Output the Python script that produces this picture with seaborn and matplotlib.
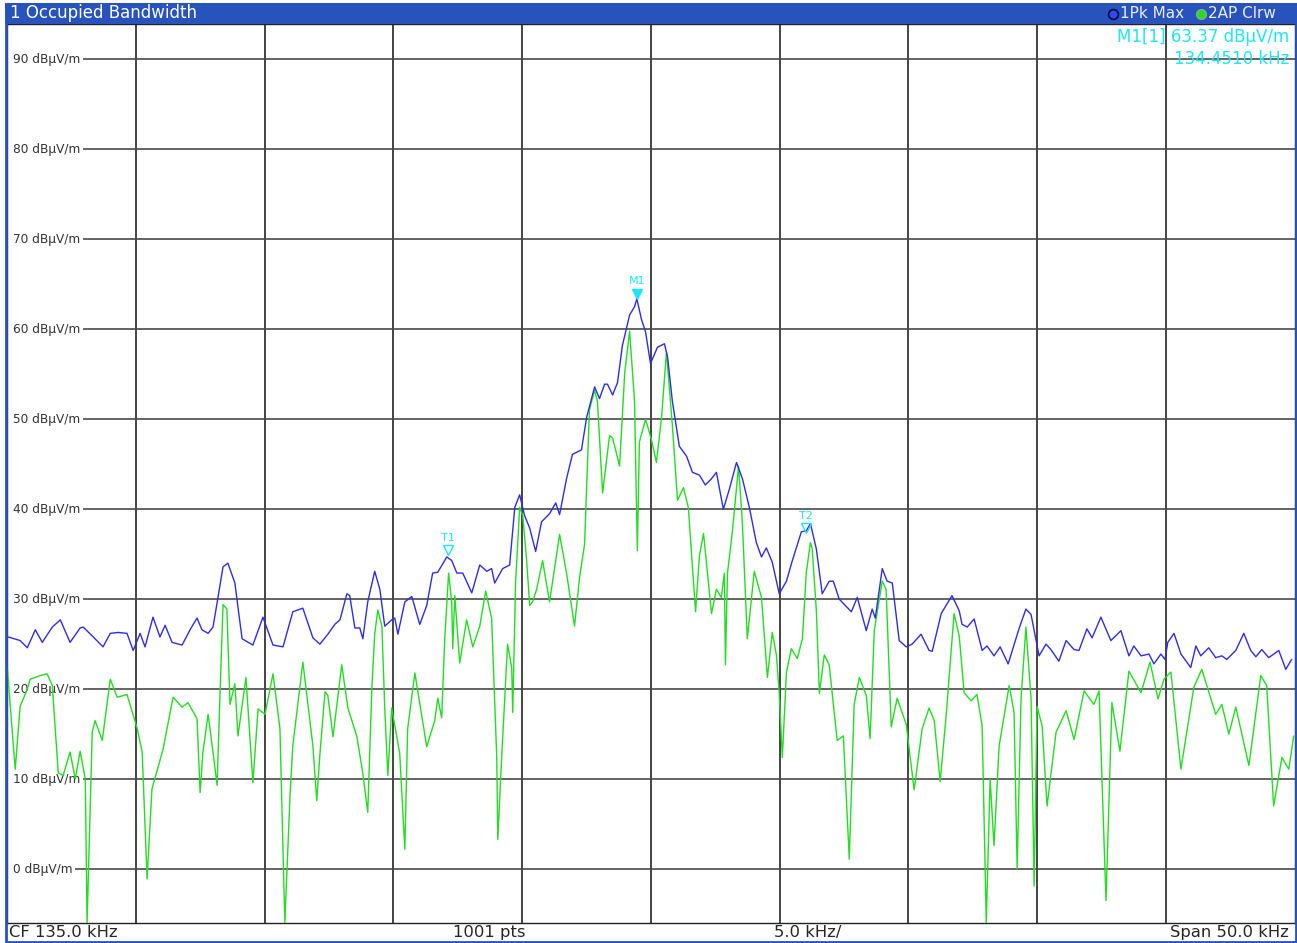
import matplotlib.pyplot as plt
import seaborn as sns
from matplotlib.patches import Rectangle
from matplotlib.lines import Line2D

## Trace 1: Pk Max (blue) - frequency in kHz, level in dBuV/m
pk_freq = [110.04, 110.50, 110.78, 111.09, 111.36, 111.75, 112.06, 112.44, 112.83, 112.95,
           113.34, 113.72, 114.00, 114.31, 114.65, 114.89, 115.16, 115.35, 115.66, 115.93,
           116.13, 116.40, 116.79, 117.10, 117.37, 117.56, 117.80, 117.99, 118.15, 118.38,
           118.57, 118.84, 118.96, 119.12, 119.54, 119.93, 120.32, 120.71, 121.09, 121.48,
           121.87, 122.14, 122.45, 122.72, 122.92, 123.19, 123.30, 123.50, 123.69, 123.81,
           124.00, 124.27, 124.47, 124.66, 124.93, 125.05, 125.17, 125.44, 125.71, 126.02,
           126.29, 126.52, 126.72, 127.07, 127.26, 127.46, 127.69, 128.04, 128.35, 128.62,
           128.81, 128.93, 129.24, 129.51, 129.71, 129.90, 130.09, 130.29, 130.52, 130.75,
           131.06, 131.30, 131.45, 131.72, 131.95, 132.30, 132.50, 132.81, 133.00, 133.20,
           133.31, 133.51, 133.70, 133.89, 134.17, 134.36, 134.45, 134.63, 134.79, 134.98,
           135.25, 135.52, 135.64, 135.83, 136.10, 136.38, 136.61, 136.88, 137.11, 137.35,
           137.54, 137.81, 138.04, 138.32, 138.55, 138.82, 139.09, 139.29, 139.48, 139.71,
           139.98, 140.26, 140.49, 140.84, 141.03, 141.19, 141.42, 141.65, 141.92, 142.08,
           142.31, 142.78, 143.01, 143.36, 143.59, 143.71, 143.98, 144.17, 144.37, 144.64,
           144.91, 145.14, 145.49, 145.80, 145.92, 146.27, 146.69, 146.97, 147.08, 147.28,
           147.55, 147.86, 148.05, 148.32, 148.56, 148.87, 149.29, 149.56, 149.76, 150.07,
           150.34, 150.53, 150.84, 151.12, 151.43, 151.62, 151.93, 152.13, 152.47, 152.86,
           153.25, 153.56, 153.75, 154.03, 154.34, 154.53, 154.80, 154.96, 155.07, 155.31,
           155.58, 155.96, 156.16, 156.35, 156.66, 156.93, 157.17, 157.36, 157.71, 158.02,
           158.29, 158.49, 158.72, 158.99, 159.38, 159.65, 159.88]
pk_level = [25.8, 25.4, 24.6, 26.6, 25.2, 26.9, 27.7, 25.2, 26.8, 26.9,
            25.8, 24.7, 26.2, 26.3, 26.2, 24.3, 26.2, 24.7, 28.0, 25.8,
            27.1, 25.2, 24.9, 26.6, 27.9, 26.6, 26.2, 26.9, 29.6, 33.6,
            34.0, 31.8, 29.1, 25.6, 24.9, 28.0, 24.9, 24.7, 28.6, 29.0,
            25.7, 25.0, 26.1, 27.2, 27.7, 30.6, 30.4, 26.8, 26.8, 25.6,
            29.7, 33.1, 31.1, 27.0, 27.7, 27.9, 26.1, 29.7, 30.3, 27.2,
            29.3, 32.9, 33.0, 34.7, 34.3, 32.9, 32.9, 30.7, 33.8, 33.1,
            33.4, 31.8, 33.4, 33.8, 40.2, 41.6, 39.3, 37.9, 35.3, 38.6,
            39.5, 40.7, 39.4, 43.4, 46.1, 46.6, 50.2, 53.6, 52.3, 53.9,
            53.9, 52.7, 54.1, 58.2, 61.6, 62.5, 63.4, 61.1, 59.7, 56.2,
            58.0, 58.4, 57.0, 52.0, 47.0, 45.9, 44.1, 43.8, 42.7, 43.4,
            44.1, 40.0, 42.2, 45.2, 43.4, 40.2, 36.3, 34.7, 35.7, 34.1,
            30.6, 32.0, 34.3, 37.5, 37.6, 38.4, 35.6, 30.6, 32.0, 32.0,
            30.0, 28.6, 30.2, 26.5, 28.9, 27.9, 33.4, 32.0, 31.8, 25.4,
            24.7, 25.0, 26.1, 24.3, 24.2, 28.4, 30.4, 28.7, 27.2, 26.9,
            27.8, 24.3, 24.8, 23.7, 24.7, 22.8, 26.7, 28.9, 28.3, 23.7,
            25.0, 24.4, 23.1, 25.4, 24.4, 24.3, 26.7, 25.7, 28.0, 25.4,
            26.5, 23.7, 24.8, 23.7, 23.9, 22.8, 23.9, 23.3, 25.2, 26.2,
            23.9, 22.4, 24.8, 23.7, 24.6, 23.5, 23.7, 23.3, 24.3, 26.2,
            24.3, 23.6, 24.4, 23.5, 24.3, 22.2, 23.3]

## Trace 2: AP Clrw (green)
ap_freq = [110.00, 110.31, 110.50, 110.78, 110.89, 111.28, 111.55, 111.75, 111.98, 112.17,
           112.44, 112.64, 112.83, 113.03, 113.10, 113.30, 113.41, 113.69, 114.00, 114.27,
           114.65, 115.04, 115.24, 115.43, 115.62, 116.05, 116.44, 116.79, 117.02, 117.37,
           117.49, 117.60, 117.80, 117.99, 118.15, 118.26, 118.38, 118.53, 118.65, 118.84,
           118.96, 119.27, 119.54, 119.74, 120.01, 120.32, 120.59, 120.78, 120.98, 121.09,
           121.48, 121.87, 122.02, 122.14, 122.34, 122.45, 122.65, 122.99, 123.23, 123.58,
           123.81, 124.00, 124.16, 124.27, 124.39, 124.55, 124.66, 124.78, 124.93, 125.24,
           125.44, 125.55, 125.83, 126.02, 126.29, 126.60, 126.72, 126.87, 126.99, 127.14,
           127.26, 127.30, 127.38, 127.57, 127.84, 128.08, 128.35, 128.58, 128.81, 129.01,
           129.05, 129.20, 129.43, 129.59, 129.63, 129.74, 129.90, 130.02, 130.17, 130.29,
           130.40, 130.56, 130.79, 131.06, 131.45, 131.72, 132.03, 132.23, 132.42, 132.61,
           132.81, 132.92, 133.12, 133.39, 133.51, 133.78, 133.98, 134.17, 134.36, 134.47,
           134.55, 134.79, 135.02, 135.21, 135.41, 135.60, 135.83, 136.03, 136.26, 136.45,
           136.73, 136.88, 137.04, 137.35, 137.54, 137.73, 137.85, 137.89, 137.97, 138.16,
           138.40, 138.55, 138.74, 139.01, 139.29, 139.52, 139.71, 139.87, 139.98, 140.10,
           140.26, 140.45, 140.68, 140.88, 141.03, 141.19, 141.26, 141.42, 141.54, 141.73,
           141.92, 142.23, 142.47, 142.70, 142.89, 143.09, 143.36, 143.51, 143.67, 143.98,
           144.13, 144.33, 144.56, 144.91, 145.22, 145.53, 145.80, 146.00, 146.23, 146.46,
           146.77, 146.97, 147.16, 147.43, 147.66, 147.86, 148.02, 148.17, 148.32, 148.52,
           148.91, 149.10, 149.22, 149.37, 149.56, 149.76, 149.88, 149.99, 150.19, 150.38,
           150.73, 151.12, 151.43, 151.82, 152.20, 152.40, 152.67, 152.90, 153.21, 153.56,
           154.03, 154.38, 154.69, 154.92, 155.19, 155.58, 156.08, 156.39, 156.93, 157.17,
           157.44, 157.71, 158.22, 158.68, 158.91, 159.18, 159.50, 159.77, 159.96]
ap_level = [22.4, 11.1, 18.1, 20.0, 21.1, 21.5, 21.7, 20.4, 10.7, 10.4,
            13.0, 10.0, 13.1, 10.0, -6.0, 15.2, 16.5, 14.3, 21.1, 19.1,
            19.4, 15.7, 13.0, -1.1, 8.9, 13.3, 19.1, 18.0, 18.5, 16.7,
            8.5, 13.0, 17.2, 13.0, 9.3, 19.3, 29.4, 28.9, 18.3, 20.6,
            14.8, 21.3, 9.6, 17.8, 17.2, 21.7, 15.6, -6.0, 8.1, 13.7,
            23.0, 13.7, 7.6, 12.7, 19.7, 19.3, 14.7, 22.7, 17.9, 14.7,
            10.6, 6.3, 20.2, 26.1, 28.8, 27.0, 17.9, 10.4, 17.9, 12.9,
            2.2, 15.6, 21.8, 18.4, 13.6, 16.5, 19.0, 16.8, 25.6, 32.9,
            29.7, 24.5, 30.4, 22.9, 27.7, 24.7, 27.0, 30.9, 27.9, 12.4,
            3.3, 12.4, 25.0, 22.4, 17.4, 31.8, 40.2, 39.3, 34.3, 29.3,
            29.7, 31.1, 34.3, 29.7, 37.2, 32.9, 27.0, 32.5, 36.1, 51.1,
            53.2, 52.0, 41.8, 48.2, 47.9, 44.8, 55.2, 59.8, 52.0, 35.4,
            47.5, 50.0, 47.7, 45.2, 50.2, 57.5, 49.3, 41.0, 42.4, 40.2,
            28.6, 34.8, 37.3, 28.4, 31.1, 30.2, 32.9, 22.7, 32.9, 37.5,
            44.8, 38.4, 25.6, 33.1, 30.2, 21.3, 26.3, 23.8, 19.5, 12.4,
            21.9, 24.5, 23.4, 25.6, 32.9, 36.3, 35.6, 28.8, 19.5, 23.8,
            22.7, 14.3, 14.8, 1.1, 18.3, 21.3, 19.3, 14.5, 26.5, 32.0,
            31.1, 15.8, 19.0, 16.1, 8.8, 15.6, 17.9, 16.5, 9.7, 17.0,
            28.4, 25.9, 19.6, 18.7, 19.4, 15.9, -6.0, 10.0, 2.6, 13.7,
            20.4, 17.4, 0.0, 18.9, 26.9, 18.9, -1.9, 18.1, 15.9, 7.0,
            15.2, 17.6, 14.4, 19.8, 18.3, 19.8, -3.5, 18.5, 13.1, 22.0,
            19.6, 23.0, 18.9, 21.1, 21.9, 11.1, 20.2, 22.2, 17.2, 18.3,
            15.0, 18.0, 11.5, 21.5, 20.4, 7.0, 12.4, 11.1, 14.8]

## Grid / axis values
freq_grid = [115, 120, 125, 130, 135, 140, 145, 150, 155]
level_grid = [0, 10, 20, 30, 40, 50, 60, 70, 80, 90]

## Markers
marker_names = ['M1', 'T1', 'T2']
marker_freq = [134.451, 127.10, 141.03]
marker_level = [63.37, 34.9, 37.3]

W, H = 1297, 943
BAR_BLUE = '#2852bc'
CYAN = '#1ee6f6'


def fx(x):
    return x / W


def fy(y):
    return 1 - y / H


sns.set_style('white')
plt.rcParams['font.family'] = ['DejaVu Sans']

fig = plt.figure(figsize=(W / 100, H / 100), dpi=100)
ax = fig.add_axes([fx(7.25), fy(923), (1294.75 - 7.25) / W, (923 - 23.5) / H])

## grid lines drawn by hand so the labels can sit on them
for f in freq_grid:
    ax.axvline(f, color='#111111', lw=1.1, zorder=1)
for lv in level_grid:
    ax.hlines(lv, 110.2, 160, color='#4a4a4a', lw=1.2, zorder=1)
    ax.text(110.24, lv, '{} dBμV/m'.format(lv), fontsize=8.7, color='#333333',
            va='center', ha='left', zorder=2,
            bbox=dict(fc='white', ec='none', pad=1.5))

sns.lineplot(x=ap_freq, y=ap_level, ax=ax, color='#22dd22', lw=1.0,
             estimator=None, sort=False, zorder=3)
sns.lineplot(x=pk_freq, y=pk_level, ax=ax, color='#2d2de6', lw=1.0,
             estimator=None, sort=False, zorder=4)

ax.set_xlim(110, 160)
ax.set_ylim(-6, 94)
ax.set_xticks([])
ax.set_yticks([])
ax.set_xlabel('')
ax.set_ylabel('')
for s in ax.spines.values():
    s.set_color('#222222')
    s.set_linewidth(1)

## markers
for name, f, lv in zip(marker_names, marker_freq, marker_level):
    filled = name.startswith('M')
    ax.plot([f], [lv + 0.6], marker='v', ms=6.5, mec=CYAN,
            mfc=CYAN if filled else 'none', mew=1, zorder=5)
    ax.text(f, lv + 1.4, name, color=CYAN, fontsize=8, ha='center', va='bottom', zorder=5)

ax.text(159.8, 92.5, 'M1[1] 63.37 dBμV/m', color=CYAN, fontsize=12,
        ha='right', va='center', zorder=6)
ax.text(159.8, 90.1, '134.4510 kHz', color=CYAN, fontsize=12,
        ha='right', va='center', zorder=6)

## title bar and frame
fig.add_artist(Rectangle((fx(5), fy(23.5)), (W - 5) / W, 20.5 / H,
                         transform=fig.transFigure, fc=BAR_BLUE, ec='none'))
fig.add_artist(Rectangle((fx(5.5), fy(941.5)), (W - 6.5) / W, 938 / H,
                         transform=fig.transFigure, fill=False, ec=BAR_BLUE, lw=2))
fig.text(fx(10), fy(13.5), '1 Occupied Bandwidth', color='white', fontsize=12, va='center')

fig.add_artist(Line2D([fx(1113)], [fy(14)], transform=fig.transFigure, marker='o', ms=7,
                      mfc='#3346ff', mec='#0c0c30', mew=1.2))
fig.text(fx(1120), fy(13.5), '1Pk Max', color='#e8ecf8', fontsize=11, va='center')
fig.add_artist(Line2D([fx(1201)], [fy(14)], transform=fig.transFigure, marker='o', ms=7,
                      mfc='#22dd22', mec='#88aa88', mew=1))
fig.text(fx(1208), fy(13.5), '2AP Clrw', color='#e8ecf8', fontsize=11, va='center')

## bottom status line
fig.text(fx(9), fy(932.5), 'CF 135.0 kHz', fontsize=11.8, va='center', ha='left')
fig.text(fx(489), fy(932.5), '1001 pts', fontsize=11.8, va='center', ha='center')
fig.text(fx(808), fy(932.5), '5.0 kHz/', fontsize=11.8, va='center', ha='center')
fig.text(fx(1289), fy(932.5), 'Span 50.0 kHz', fontsize=11.8, va='center', ha='right')

fig.savefig('out.png', dpi=100)
